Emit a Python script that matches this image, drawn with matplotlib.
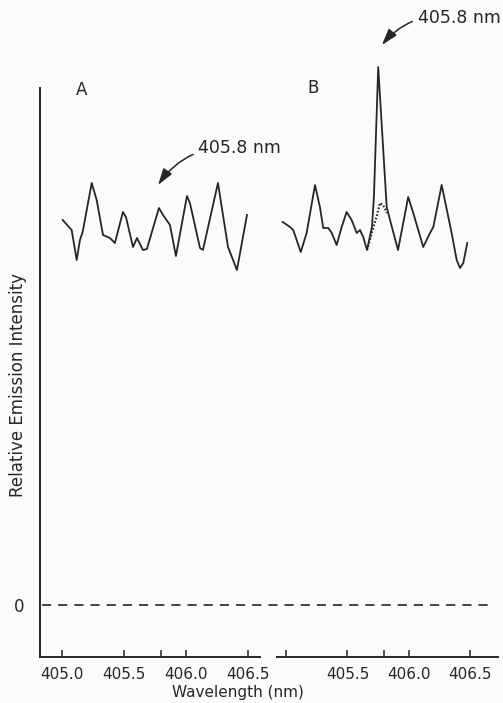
import matplotlib
matplotlib.use("Agg")
import matplotlib.pyplot as plt

# spectrum A (no added element)
wl_a = [405.006, 405.078, 405.119, 405.145, 405.167, 405.240, 405.280, 405.331,
        405.387, 405.427, 405.492, 405.516, 405.573, 405.605, 405.653, 405.685,
        405.782, 405.815, 405.871, 405.919, 406.008, 406.032, 406.113, 406.137,
        406.258, 406.339, 406.411, 406.492]
int_a = [385, 375, 345, 365, 373, 422, 405, 370,
         367, 362, 393, 388, 358, 367, 355, 356,
         397, 390, 380, 349, 409, 402, 357, 355,
         422, 358, 335, 390]

# spectrum B (with the 405.8 nm line)
wl_b = [404.973, 405.033, 405.059, 405.120, 405.168, 405.236, 405.276, 405.303,
        405.344, 405.372, 405.412, 405.453, 405.493, 405.534, 405.575, 405.602,
        405.628, 405.659, 405.699, 405.715, 405.750, 405.819, 405.846, 405.911,
        405.994, 406.035, 406.116, 406.171, 406.198, 406.266, 406.347, 406.388,
        406.415, 406.442, 406.474]
int_b = [383, 378, 375, 353, 372, 420, 398, 377,
         377, 372, 360, 378, 393, 385, 372, 375,
         368, 355, 378, 408, 538, 398, 385, 355,
         408, 392, 358, 372, 378, 420, 372, 345,
         337, 342, 362]

# dotted background under the peak
wl_dot = [405.659, 405.740, 405.764, 405.789, 405.821]
int_dot = [355, 390, 402, 400, 392]

ticks = [405.0, 405.5, 405.8, 406.0, 406.5]
labels_a = ["405.0", "405.5", "", "406.0", "406.5"]
labels_b = ["", "405.5", "", "406.0", "406.5"]

ink = "#262626"
bg = "#fbfbf9"

fig = plt.figure(figsize=(5.03, 7.03), dpi=100, facecolor=bg)
W, H = 503, 703

ax_a = fig.add_axes([40 / W, 46 / H, 220 / W, 569 / H])
ax_b = fig.add_axes([277 / W, 46 / H, 221 / W, 569 / H])

for ax in (ax_a, ax_b):
    ax.set_facecolor("none")
    ax.set_ylim(-52, 517)
    for s in ("top", "right"):
        ax.spines[s].set_visible(False)
    ax.spines["bottom"].set_linewidth(1.4)
    ax.spines["bottom"].set_color(ink)
    ax.set_xticks(ticks)
    ax.tick_params(axis="x", direction="in", length=5, width=1.1, color=ink,
                   pad=7, labelsize=11, labelcolor=ink)

ax_a.set_xlim(404.823, 406.597)
ax_b.set_xlim(404.927, 406.724)
ax_a.set_xticklabels(labels_a)
ax_b.set_xticklabels(labels_b)

ax_a.spines["left"].set_linewidth(1.4)
ax_a.spines["left"].set_color(ink)
ax_a.set_yticks([0])
ax_a.set_yticklabels(["0"])
ax_a.tick_params(axis="y", length=0, pad=11, labelsize=12, labelcolor=ink)
ax_b.spines["left"].set_visible(False)
ax_b.set_yticks([])

ax_a.plot(wl_a, int_a, color=ink, lw=1.3)
ax_b.plot(wl_b, int_b, color=ink, lw=1.3, clip_on=False)
ax_b.plot(wl_dot, int_dot, color=ink, lw=1.5, ls=(0, (0.8, 0.9)))

# zero line across both panels
ax_a.axhline(0, xmin=0.01, xmax=2.045, color=ink, lw=1.2, dashes=(5.5, 4.2),
             clip_on=False)

ax_a.text(405.16, 515, "A", fontsize=12, color=ink, ha="center", va="center")
ax_b.text(405.22, 517, "B", fontsize=12, color=ink, ha="center", va="center",
          clip_on=False)

arrow = dict(arrowstyle="-|>,head_length=0.8,head_width=0.25", color=ink, lw=1.1,
             connectionstyle="arc3,rad=0.3", shrinkA=2, shrinkB=0)
ax_a.annotate("405.8 nm", xy=(405.775, 420), xytext=(406.1, 457),
              fontsize=12.5, color=ink, ha="left", va="center",
              arrowprops=arrow, annotation_clip=False)
ax_b.annotate("405.8 nm", xy=(405.78, 560), xytext=(406.07, 587),
              fontsize=12.5, color=ink, ha="left", va="center",
              arrowprops=arrow, annotation_clip=False)

fig.text(18 / W, 1 - 385 / H, "Relative Emission Intensity", rotation=90,
         ha="center", va="center", fontsize=12, color=ink)
fig.text(238 / W, 1 - 693 / H, "Wavelength (nm)", ha="center", va="center",
         fontsize=11, color=ink)

fig.savefig("out.png", dpi=100, facecolor=bg)
